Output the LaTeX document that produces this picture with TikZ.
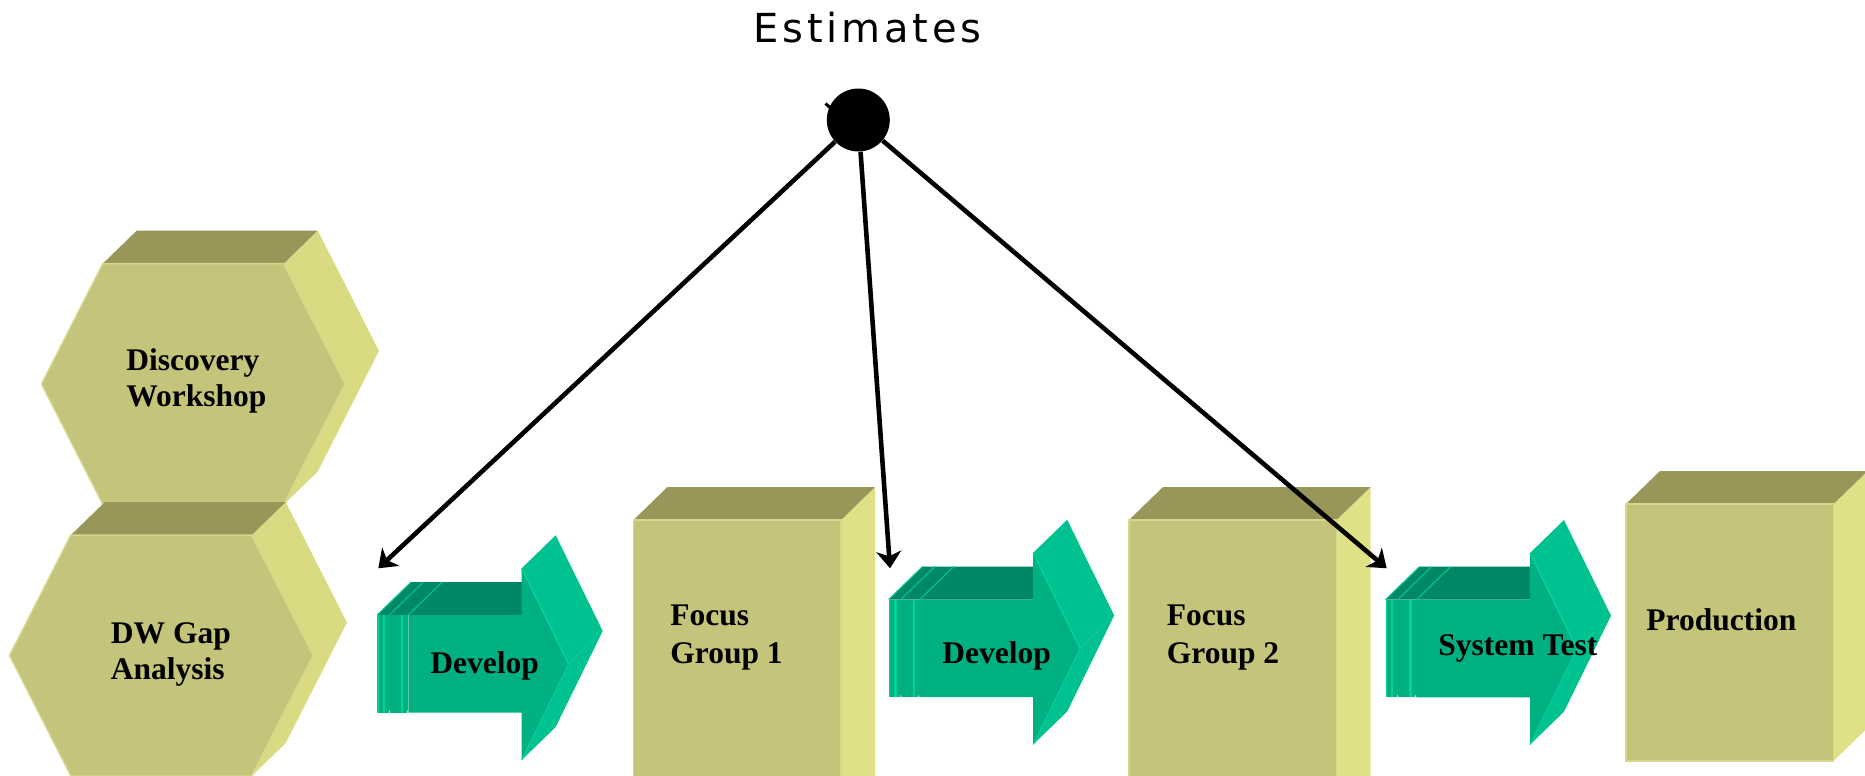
\documentclass[tikz,border=0pt]{standalone}
\usepackage{fontspec}
\setmainfont{Liberation Serif}
\newfontfamily\estfont[LetterSpace=9.5]{DejaVu Sans}
\usetikzlibrary{arrows.meta}

\definecolor{prismfront}{HTML}{C4C47A}
\definecolor{prismtop}{HTML}{99965A}
\definecolor{hexside}{HTML}{DADA82}
\definecolor{boxside}{HTML}{E0E086}
\definecolor{frontedge}{HTML}{D6D68C}
\definecolor{arrowfront}{HTML}{00B083}
\definecolor{arrowtop}{HTML}{008866}
\definecolor{arrowside}{HTML}{00C290}
\definecolor{arrowlight}{HTML}{00D29B}

\tikzset{
  lbl/.style={anchor=base west, inner sep=0pt, font=\fontsize{15.75}{18}\selectfont\bfseries},
  conn/.style={line width=2.3pt, -{Stealth[length=8.5pt,width=12.5pt,inset=2.5pt]}},
  % hexagonal prism, pic origin = centre of the front face
  pics/hexprism/.style={code={
    \fill[hexside] (90.4,-120.5) -- (124.4,-153.5) -- (185.7,-33) -- (124.4,87.5)
      -- (90.4,120.5) -- (151.7,0) -- cycle;
    \fill[prismtop] (-90.4,-120.5) -- (-56.4,-153.5) -- (124.4,-153.5) -- (90.4,-120.5) -- cycle;
    \filldraw[fill=prismfront, draw=frontedge, line width=0.75pt]
      (-151.7,0) -- (-90.4,-120.5) -- (90.4,-120.5) -- (151.7,0)
      -- (90.4,120.5) -- (-90.4,120.5) -- cycle;
  }},
  % rectangular block, pic origin = top left of the front face, argument = height
  pics/boxprism/.style={code={
    \fill[boxside] (207.5,0) -- (241.5,-33) -- (241.5,{#1-33}) -- (207.5,#1) -- cycle;
    \fill[prismtop] (0,0) -- (34,-33) -- (241.5,-33) -- (207.5,0) -- cycle;
    \filldraw[fill=prismfront, draw=frontedge, line width=0.75pt] (0,0) rectangle (207.5,#1);
  }},
  % striped 3-D block arrow, pic origin = top left of the body front face
  pics/greenarrow/.style={code={
    \foreach \a/\b in {-31/-19, -19/0} {
      \fill[arrowtop] (\a,0) -- ({\a+34},-33) -- ({\b+34},-33) -- (\b,0) -- cycle;
      \draw[arrowside, line width=0.6pt] (\a,0) -- ({\a+34},-33);
      \fill[arrowfront] (\a,0) rectangle (\b,97.7);
    }
    \fill[arrowlight] (-31,0) rectangle (-29.5,97.7);
    \fill[arrowlight] (-25.5,0) rectangle (-23.3,97.7);
    \fill[arrowlight] (-7.3,0) rectangle (-5,97.7);
    \fill[white] (-19.6,97.7) -- (-18.4,97.7) -- (-19,95) -- cycle;
    \fill[white] (-1.6,97.7) -- (-0.4,97.7) -- (-1,95) -- cycle;
    \fill[arrowtop] (0,0) -- (34,-33) -- (147.4,-33) -- (113.4,0) -- cycle;
    \draw[arrowside, line width=0.6pt] (0,0) -- (34,-33);
    \fill[arrowside] (113.4,-46.7) -- (147.4,-79.7) -- (194.4,16) -- (160.4,49) -- cycle;
    \fill[arrowside] (160.4,49) -- (194.4,16) -- (147.4,112) -- (113.4,145) -- cycle;
    \fill[arrowfront] (0,0) -- (113.4,0) -- (113.4,-46.7) -- (160.4,49)
      -- (113.4,145) -- (113.4,97.7) -- (0,97.7) -- cycle;
    \draw[arrowlight, line width=0.75pt] (113.4,-46.7) -- (160.4,49);
    \draw[arrowlight, line width=0.5pt] (113.4,145) -- (160.4,49);
  }}
}

\begin{document}
\begin{tikzpicture}[x=0.5pt, y=-0.5pt]
\useasboundingbox (0,0) rectangle (1865,776);
\clip (0,0) rectangle (1865,776);

% stacked hexagons
\pic at (193.3,384) {hexprism};
\pic at (161.3,655.5) {hexprism};

% blocks
\pic at (633.5,520) {boxprism=300};
\pic at (1129,520) {boxprism=300};
\pic at (1626,504) {boxprism=257};

% block arrows
\pic at (408.3,615) {greenarrow};
\pic at (919.8,599.5) {greenarrow};
\pic at (1416.6,599.7) {greenarrow};

% labels
\node[lbl] (disc1) at (126,370) {Discovery};
\node[lbl] (disc2) at (126,406) {Workshop};
\node[lbl] (gap1) at (110.5,643) {DW Gap};
\node[lbl] (gap2) at (110.5,679) {Analysis};
\node[lbl] (dev1) at (430,673) {Develop};
\node[lbl] (fg1a) at (670,625) {Focus};
\node[lbl] (fg1b) at (670,663) {Group 1};
\node[lbl] (dev2) at (942,663) {Develop};
\node[lbl] (fg2a) at (1166.5,625) {Focus};
\node[lbl] (fg2b) at (1166.5,663) {Group 2};
\node[lbl] (systest) at (1438,655) {System Test};
\node[lbl] (prod) at (1646,630) {Production};

\node[anchor=base west, inner sep=0pt, font=\estfont\fontsize{20}{24}\selectfont]
  (est) at (753.3,42.7) {Estimates};

% estimate hub and its connectors
\node[circle, fill=black, minimum size=31.5pt, inner sep=0pt] (hub) at (858.3,120) {};
\draw[line width=1.5pt] (825.5,103.5) -- (831,108.5);
\coordinate (t1) at (378.3,568.3);
\coordinate (t2) at (890,568.3);
\coordinate (t3) at (1386.7,568.3);
\draw[conn] (hub) -- (t1);
\draw[conn] (hub) -- (t2);
\draw[conn] (hub) -- (t3);
\end{tikzpicture}
\end{document}
